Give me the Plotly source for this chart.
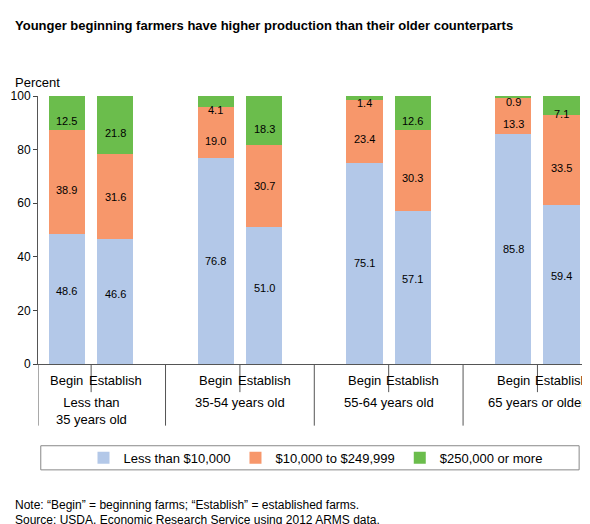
import plotly.graph_objects as go

groups = ["Less than<br>35 years old", "35-54 years old", "55-64 years old", "65 years or older"]
bar_labels = ["Begin", "Establish"] * 4
low = [48.6, 46.6, 76.8, 51.0, 75.1, 57.1, 85.8, 59.4]
mid = [38.9, 31.6, 19.0, 30.7, 23.4, 30.3, 13.3, 33.5]
high = [12.5, 21.8, 4.1, 18.3, 1.4, 12.6, 0.9, 7.1]
names = ["Less than $10,000", "$10,000 to $249,999", "$250,000 or more"]
colors = ["#b3c8e8", "#f7976b", "#6bbd4c"]

step = 3.08
xs = [g * step + i for g in range(4) for i in range(2)]

fig = go.Figure()
for vals, nm, c in zip([low, mid, high], names, colors):
    fig.add_bar(x=xs, y=vals, name=nm, marker_color=c, width=0.75, marker_line_width=0)

ann = []
base = [0] * 8
for vals in [low, mid, high]:
    for k, v in enumerate(vals):
        yy = base[k] + v / 2
        if v < 2:
            yy = base[k] + v + 0.6
        ann.append(dict(x=xs[k], y=yy / 100, yref="paper", text=f"{v:.1f}", showarrow=False,
                        font=dict(size=11, color="black")))
        base[k] += v
for k, lab in enumerate(bar_labels):
    ann.append(dict(x=xs[k], y=-0.06, yref="paper", text=lab, showarrow=False, font=dict(size=13), yanchor="middle"))
for g, lab in enumerate(groups):
    ann.append(dict(x=g * step + 0.5, y=-0.11, yref="paper", text=lab, showarrow=False, font=dict(size=13), yanchor="top"))
ann += [
    dict(x=-0.045, xref="paper", y=1.3, yref="paper", text="<b>Younger beginning farmers have higher production than their older counterparts</b>",
         showarrow=False, xanchor="left", font=dict(size=13)),
    dict(x=-0.045, xref="paper", y=1.085, yref="paper", text="Percent", showarrow=False, xanchor="left", font=dict(size=13)),
    dict(x=-0.045, xref="paper", y=-0.56, yref="paper", text="Note: “Begin” = beginning farms; “Establish” = established farms.",
         showarrow=False, xanchor="left", font=dict(size=12)),
    dict(x=-0.045, xref="paper", y=-0.615, yref="paper", text="Source: USDA, Economic Research Service using 2012 ARMS data.",
         showarrow=False, xanchor="left", font=dict(size=12)),
]

shapes = []
xmin, xmax = -0.6, 3 * step + 1 + 0.65
seps = [xmin] + [g * step + 1 + (step - 1) / 2 for g in range(3)] + [xmax]
for s in seps:
    shapes.append(dict(type="line", x0=s, x1=s, y0=0, y1=-0.23, yref="paper", line=dict(color="#555", width=1)))
for g in range(4):
    x = g * step + 0.5
    shapes.append(dict(type="line", x0=x, x1=x, y0=0, y1=-0.105, yref="paper", line=dict(color="#555", width=1)))
shapes.append(dict(type="rect", xref="paper", x0=0.005, x1=0.975, y0=-0.395, y1=-0.305, yref="paper",
                   line=dict(color="#888", width=1)))

fig.update_layout(
    barmode="stack", width=590, height=524, plot_bgcolor="white", paper_bgcolor="white",
    margin=dict(l=30, r=5, t=88, b=168, autoexpand=False),
    font=dict(family="Liberation Sans, Arial", size=12, color="black"),
    xaxis=dict(range=[xmin, xmax], showticklabels=False, showline=True, linecolor="#555", ticks="",
               showgrid=False, zeroline=False, automargin=False),
    yaxis=dict(range=[0, 100], dtick=20, ticks="outside", ticklen=4, showline=True, linecolor="#555",
               showgrid=False, zeroline=False, tickfont=dict(size=12), automargin=False),
    legend=dict(orientation="h", x=0.5, xanchor="center", y=-0.35, yanchor="middle", font=dict(size=13),
                traceorder="normal", bgcolor="rgba(0,0,0,0)"),
    annotations=ann, shapes=shapes,
)
fig.write_html("out.html")
